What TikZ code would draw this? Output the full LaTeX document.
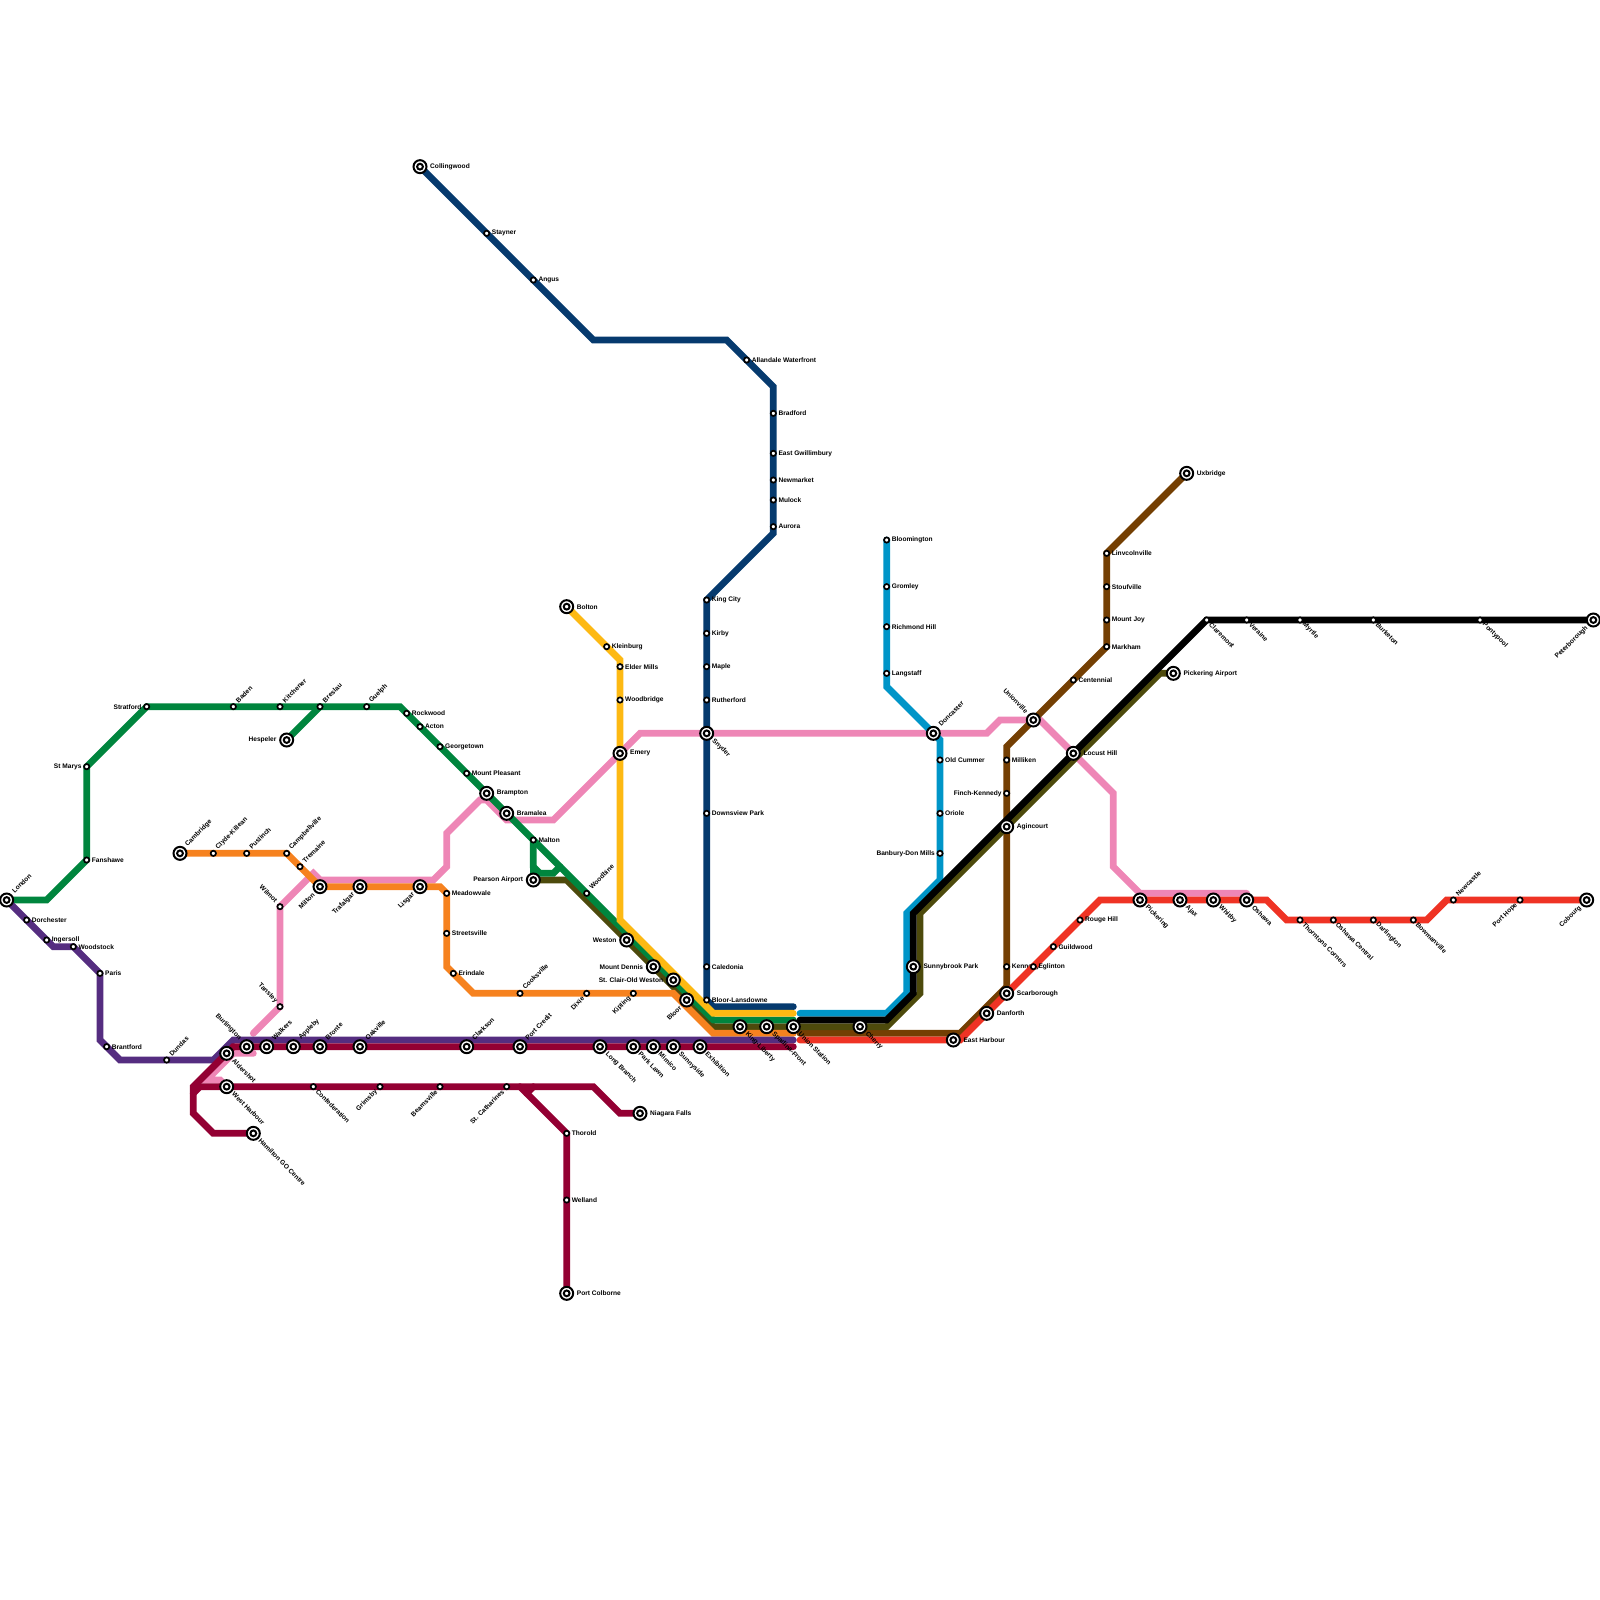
\documentclass[tikz,border=0pt]{standalone}
\usepackage{fontspec}
\setmainfont{Liberation Sans}
\definecolor{cnavy}{HTML}{063A6E}
\definecolor{cyellow}{HTML}{FDB913}
\definecolor{cgreen}{HTML}{00853E}
\definecolor{colive}{HTML}{4D4A0C}
\definecolor{corange}{HTML}{F6821F}
\definecolor{cpurple}{HTML}{552D80}
\definecolor{ccrimson}{HTML}{930033}
\definecolor{cteal}{HTML}{0095C8}
\definecolor{cbrown}{HTML}{743F03}
\definecolor{cred}{HTML}{EF3324}
\definecolor{cpink}{HTML}{EE86B6}
\pgfdeclarelayer{lines}
\pgfsetlayers{lines,main}
\tikzset{
  rail/.style={draw=#1,line width=6.8pt,line cap=round,line join=miter,miter limit=10},
  stn/.style={circle,draw=black,fill=white,line width=1.7pt,inner sep=0pt,minimum size=5.3pt},
  hub/.style={circle,draw=black,fill=white,line width=2pt,inner sep=0pt,minimum size=13pt,
    path picture={\draw[black,line width=2pt] (path picture bounding box.center) circle (2.9pt);}},
  lab/.style={font=\fontsize{6.6}{7}\selectfont\bfseries,inner sep=0pt,text=black},
  tr/.style={lab,anchor=west,xshift=#1},tr/.default=5pt,
  tl/.style={lab,anchor=east,xshift=-#1},tl/.default=5pt,
  ne/.style={lab,xshift=0.707*#1,yshift=0.707*#1+1.5pt,rotate=45,anchor=west},ne/.default=5pt,
  se/.style={lab,xshift=0.707*#1,yshift=-0.707*#1,rotate=-45,anchor=west},se/.default=5pt,
  nw/.style={lab,xshift=-0.707*#1,yshift=0.707*#1+1.5pt,rotate=-45,anchor=east},nw/.default=5pt,
  sw/.style={lab,xshift=-0.707*#1,yshift=-0.707*#1-0.6pt,rotate=45,anchor=east},sw/.default=5pt,
}
\newcommand{\st}[5]{\node[#1] (#2) at (#3) {}; \node[#4] (#2t) at (#2.center) {#5};}
\begin{document}
\begin{tikzpicture}[x=6.6667pt,y=-6.6667pt]
\useasboundingbox (0,0) rectangle (240,240);
% ---- Barrie
\st{hub}{collingwood}{63,25}{tr=10pt}{Collingwood}
\st{stn}{stayner}{73,35}{tr}{Stayner}
\st{stn}{angus}{80,42}{tr}{Angus}
\st{stn}{allandale}{112,54}{tr}{Allandale Waterfront}
\st{stn}{bradford}{116,62}{tr}{Bradford}
\st{stn}{eastg}{116,68}{tr}{East Gwillimbury}
\st{stn}{newmarket}{116,72}{tr}{Newmarket}
\st{stn}{mulock}{116,75}{tr}{Mulock}
\st{stn}{aurora}{116,79}{tr}{Aurora}
\st{stn}{kingcity}{106,90}{tr}{King City}
\st{stn}{kirby}{106,95}{tr}{Kirby}
\st{stn}{maple}{106,100}{tr}{Maple}
\st{stn}{rutherford}{106,105}{tr}{Rutherford}
\st{hub}{snyder}{106,110}{se=9pt}{Snyder}
\st{stn}{downsview}{106,122}{tr}{Downsview Park}
\st{stn}{caledonia}{106,145}{tr}{Caledonia}
\st{stn}{bloorl}{106,150}{tr}{Bloor-Lansdowne}
% ---- Yellow
\st{hub}{bolton}{85,91}{tr=10pt}{Bolton}
\st{stn}{kleinburg}{91,97}{tr}{Kleinburg}
\st{stn}{eldermills}{93,100}{tr}{Elder Mills}
\st{stn}{woodbridge}{93,105}{tr}{Woodbridge}
\st{hub}{emery}{93,113}{tr=10pt}{Emery}
% ---- Green
\st{hub}{london}{1,135}{ne=9pt}{London}
\st{stn}{fanshawe}{13,129}{tr}{Fanshawe}
\st{stn}{stmarys}{13,115}{tl}{St Marys}
\st{stn}{stratford}{22,106}{tl}{Stratford}
\st{stn}{baden}{35,106}{ne}{Baden}
\st{stn}{kitchener}{42,106}{ne}{Kitchener}
\st{stn}{breslau}{48,106}{ne}{Breslau}
\st{hub}{hespeler}{43,111}{tl=10pt}{Hespeler}
\st{stn}{guelph}{55,106}{ne}{Guelph}
\st{stn}{rockwood}{61,107}{tr}{Rockwood}
\st{stn}{acton}{63,109}{tr}{Acton}
\st{stn}{georgetown}{66,112}{tr}{Georgetown}
\st{stn}{mountp}{70,116}{tr}{Mount Pleasant}
\st{hub}{brampton}{73,119}{tr=10pt}{Brampton}
\st{hub}{bramalea}{76,122}{tr=10pt}{Bramalea}
\st{stn}{malton}{80,126}{tr}{Malton}
\st{hub}{pearson}{80,132}{tl=10pt}{Pearson Airport}
\st{stn}{woodbine}{88,134}{ne}{Woodbine}
\st{hub}{weston}{94,141}{tl=10pt}{Weston}
\st{hub}{mountd}{98,145}{tl=10pt}{Mount Dennis}
\st{hub}{stclair}{101,147}{tl=10pt}{St. Clair-Old Weston}
% ---- Orange
\st{hub}{cambridge}{27,128}{ne=9pt}{Cambridge}
\st{stn}{clyde}{32,128}{ne}{Clyde-Killean}
\st{stn}{puslinch}{37,128}{ne}{Puslinch}
\st{stn}{campbell}{43,128}{ne}{Campbellville}
\st{stn}{tremaine}{45,130}{ne}{Tremaine}
\st{hub}{milton}{48,133}{sw=9pt}{Milton}
\st{hub}{trafalgar}{54,133}{sw=9pt}{Trafalgar}
\st{hub}{lisgar}{63,133}{sw=9pt}{Lisgar}
\st{stn}{meadowvale}{67,134}{tr}{Meadowvale}
\st{stn}{streetsville}{67,140}{tr}{Streetsville}
\st{stn}{erindale}{68,146}{tr}{Erindale}
\st{stn}{cooksville}{78,149}{ne}{Cooksville}
\st{stn}{dixie}{88,149}{sw}{Dixie}
\st{stn}{kipling}{95,149}{sw}{Kipling}
\st{hub}{bloor}{103,150}{sw=9pt}{Bloor}
% ---- Purple
\st{stn}{dorchester}{4,138}{tr}{Dorchester}
\st{stn}{ingersoll}{7,141}{tr}{Ingersoll}
\st{stn}{woodstock}{11,142}{tr}{Woodstock}
\st{stn}{paris}{15,146}{tr}{Paris}
\st{stn}{brantford}{16,157}{tr}{Brantford}
\st{stn}{dundas}{25,159}{ne}{Dundas}
% ---- Lakeshore West
\st{hub}{burlington}{37,157}{nw=9pt}{Burlington}
\st{hub}{aldershot}{34,158}{se=9pt}{Aldershot}
\st{hub}{walkers}{40,157}{ne=9pt}{Walkers}
\st{hub}{appleby}{44,157}{ne=9pt}{Appleby}
\st{hub}{bronte}{48,157}{ne=9pt}{Bronte}
\st{hub}{oakville}{54,157}{ne=9pt}{Oakville}
\st{hub}{clarkson}{70,157}{ne=9pt}{Clarkson}
\st{hub}{portcredit}{78,157}{ne=9pt}{Port Credit}
\st{hub}{longbranch}{90,157}{se=9pt}{Long Branch}
\st{hub}{parklawn}{95,157}{se=9pt}{Park Lawn}
\st{hub}{mimico}{98,157}{se=9pt}{Mimico}
\st{hub}{sunnyside}{101,157}{se=9pt}{Sunnyside}
\st{hub}{exhibition}{105,157}{se=9pt}{Exhibition}
\st{hub}{westharbour}{34,163}{se=9pt}{West Harbour}
\st{hub}{hamilton}{38,170}{se=9pt}{Hamilton GO Centre}
\st{stn}{confederation}{47,163}{se}{Confederation}
\st{stn}{grimsby}{57,163}{sw}{Grimsby}
\st{stn}{beamsville}{66,163}{sw}{Beamsville}
\st{stn}{stcath}{76,163}{sw}{St. Catharines}
\st{hub}{niagara}{96,167}{tr=10pt}{Niagara Falls}
\st{stn}{thorold}{85,170}{tr}{Thorold}
\st{stn}{welland}{85,180}{tr}{Welland}
\st{hub}{portcolborne}{85,194}{tr=10pt}{Port Colborne}
% ---- Central
\st{hub}{king}{111,154}{se=9pt}{King-Liberty}
\st{hub}{spadina}{115,154}{se=9pt}{Spadina-Front}
\st{hub}{union}{119,154}{se=9pt}{Union Station}
\st{hub}{cherry}{129,154}{se=9pt}{Cherry}
% ---- Pink
\st{stn}{wilmot}{42,136}{nw}{Wilmot}
\st{stn}{tansley}{42,151}{nw}{Tansley}
\st{hub}{doncaster}{140,110}{ne=9pt}{Doncaster}
\st{hub}{unionville}{155,108}{nw=9pt}{Unionville}
% ---- Teal
\st{stn}{bloomington}{133,81}{tr}{Bloomington}
\st{stn}{gromley}{133,88}{tr}{Gromley}
\st{stn}{richmond}{133,94}{tr}{Richmond Hill}
\st{stn}{langstaff}{133,101}{tr}{Langstaff}
\st{stn}{oldcummer}{141,114}{tr}{Old Cummer}
\st{stn}{oriole}{141,122}{tr}{Oriole}
\st{stn}{banbury}{141,128}{tl}{Banbury-Don Mills}
% ---- Black / olive
\st{hub}{sunnybrook}{137,145}{tr=10pt}{Sunnybrook Park}
\st{hub}{agincourt}{151,124}{tr=10pt}{Agincourt}
\st{hub}{locust}{161,113}{tr=10pt}{Locust Hill}
\st{stn}{claremont}{181,93}{se}{Claremont}
\st{stn}{veraine}{187,93}{se}{Veraine}
\st{stn}{myrtle}{195,93}{se}{Myrtle}
\st{stn}{burketon}{206,93}{se}{Burketon}
\st{stn}{pontypool}{222,93}{se}{Pontypool}
\st{hub}{peterborough}{239,93}{sw=9pt}{Peterborough}
\st{hub}{pickairport}{176,101}{tr=10pt}{Pickering Airport}
% ---- Brown
\st{hub}{uxbridge}{178,71}{tr=10pt}{Uxbridge}
\st{stn}{lincoln}{166,83}{tr}{Linvcolnville}
\st{stn}{stouffville}{166,88}{tr}{Stoufville}
\st{stn}{mountjoy}{166,93}{tr}{Mount Joy}
\st{stn}{markham}{166,97}{tr}{Markham}
\st{stn}{centennial}{161,102}{tr}{Centennial}
\st{stn}{milliken}{151,114}{tr}{Milliken}
\st{stn}{finch}{151,119}{tl}{Finch-Kennedy}
\node[stn] (kennedy) at (151,145) {};
% ---- Red
\st{hub}{scarborough}{151,149}{tr=10pt}{Scarborough}
\st{hub}{danforth}{148,152}{tr=10pt}{Danforth}
\st{hub}{eastharbour}{143,156}{tr=10pt}{East Harbour}
\st{stn}{eglinton}{155,145}{tr}{Eglinton}
\st{stn}{guildwood}{158,142}{tr}{Guildwood}
\st{stn}{rougehill}{162,138}{tr}{Rouge Hill}
\st{hub}{pickering}{171,135}{se=9pt}{Pickering}
\st{hub}{ajax}{177,135}{se=9pt}{Ajax}
\st{hub}{whitby}{182,135}{se=9pt}{Whitby}
\st{hub}{oshawa}{187,135}{se=9pt}{Oshawa}
\st{stn}{thornton}{195,138}{se}{Thorntons Corners}
\st{stn}{oshawac}{200,138}{se}{Oshawa Central}
\st{stn}{darlington}{206,138}{se}{Darlington}
\st{stn}{bowmanville}{212,138}{se}{Bowmanville}
\st{stn}{newcastle}{218,135}{ne}{Newcastle}
\st{stn}{porthope}{228,135}{sw}{Port Hope}
\st{hub}{cobourg}{238,135}{sw=9pt}{Cobourg}
% ---- bends
\coordinate (n1) at (89,51); \coordinate (n2) at (109,51); \coordinate (n3) at (116,58);
\coordinate (n4) at (116,80); \coordinate (n5) at (107,151); \coordinate (n6) at (119,151);
\coordinate (y1) at (93,99); \coordinate (y2) at (93,138); \coordinate (y3) at (107,152); \coordinate (y4) at (119,152);
\coordinate (g1) at (7,135); \coordinate (g2) at (60,106); \coordinate (g3) at (107,153); \coordinate (g4) at (119,153);
\coordinate (g5) at (80,130); \coordinate (g6) at (81,131); \coordinate (g7) at (83,131); \coordinate (g8) at (84,130);
\coordinate (ol1) at (85,132); \coordinate (ol2) at (107,154); \coordinate (ol3) at (119,154);
\coordinate (o1) at (66,133); \coordinate (o2) at (67,145); \coordinate (o3) at (71,149); \coordinate (o4) at (101,149); \coordinate (o5) at (107,155); \coordinate (o6) at (119,155); \coordinate (o7) at (67,134);
\coordinate (p1) at (8,142); \coordinate (p2) at (15,156); \coordinate (p3) at (18,159); \coordinate (p4) at (32,159); \coordinate (p5) at (35,156); \coordinate (p6) at (119,156);
\coordinate (c1) at (119,157); \coordinate (c2) at (35,157); \coordinate (c3) at (29,163); \coordinate (c4) at (29,167); \coordinate (c5) at (32,170);
\coordinate (c6) at (30,163); \coordinate (c7) at (89,163); \coordinate (c8) at (93,167); \coordinate (c9) at (78,163); \coordinate (c10) at (29,164); \coordinate (c11) at (79,164); \coordinate (c12) at (80,163);
\coordinate (k1) at (38,155); \coordinate (k2) at (47,131); \coordinate (k3) at (48,132); \coordinate (k4) at (65,132); \coordinate (k5) at (67,130); \coordinate (k6) at (67,125); \coordinate (k7) at (72,120); \coordinate (k8) at (73,120); \coordinate (k9) at (76,123); \coordinate (k10) at (83,123); \coordinate (k11) at (96,110); \coordinate (k12) at (148,110); \coordinate (k13) at (150,108); \coordinate (k13b) at (156,108); \coordinate (k14) at (167,119); \coordinate (k15) at (167,130); \coordinate (k16) at (171,134); \coordinate (k17) at (187,134);
\coordinate (w1) at (38,158); \coordinate (w2) at (35,158); \coordinate (w3) at (31,162); \coordinate (w4) at (33,162); \coordinate (w5) at (34,163);
\coordinate (t1) at (133,103); \coordinate (t2) at (141,111); \coordinate (t3) at (141,132); \coordinate (t4) at (136,137); \coordinate (t5) at (136,149); \coordinate (t6) at (133,152); \coordinate (t7) at (120,152);
\coordinate (b1) at (137,137); \coordinate (b2) at (137,149); \coordinate (b3) at (133,153); \coordinate (b4) at (120,153);
\coordinate (v1) at (174,101); \coordinate (v2) at (138,137); \coordinate (v3) at (138,149); \coordinate (v4) at (133,154); \coordinate (v5) at (120,154);
\coordinate (r1) at (217,135); \coordinate (r2) at (214,138); \coordinate (r3) at (193,138); \coordinate (r4) at (190,135); \coordinate (r5) at (165,135); \coordinate (r6) at (144,156); \coordinate (r7) at (120,156);
\coordinate (h1) at (151,112); \coordinate (h2) at (151,148); \coordinate (h3) at (144,155); \coordinate (h4) at (120,155);
\begin{pgfonlayer}{lines}
\draw[rail=cpink] (k1)--(tansley.center)--(wilmot.center)--(k2)--(k3)--(k4)--(k5)--(k6)--(k7)--(k8)--(k9)--(k10)--(emery.center)--(k11)--(snyder.center)--(doncaster.center)--(k12)--(k13)--(k13b)--(k14)--(k15)--(k16)--(k17);
\draw[rail=cpink] (w1)--(w2)--(w3)--(w4)--(w5);
\draw[rail=cteal] (bloomington.center)--(t1)--(doncaster.center)--(t2)--(t3)--(t4)--(t5)--(t6)--(t7);
\draw[rail=cbrown] (uxbridge.center)--(lincoln.center)--(markham.center)--(h1)--(h2)--(h3)--(h4);
\node[tr] (kennedyt) at (kennedy.center) {Kennedy};
\draw[rail=colive] (pearson.center)--(ol1)--(ol2)--(ol3)--(cherry.center)--(v5)--(v4)--(v3)--(v2)--(v1)--(pickairport.center);
\draw[rail=black] (peterborough.center)--(claremont.center)--(b1)--(b2)--(b3)--(b4);
\draw[rail=cred] (cobourg.center)--(r1)--(r2)--(r3)--(r4)--(r5)--(r6)--(r7);
\draw[rail=cnavy] (collingwood.center)--(n1)--(n2)--(n3)--(n4)--(kingcity.center)--(bloorl.center)--(n5)--(n6);
\draw[rail=cgreen] (london.center)--(g1)--(fanshawe.center)--(stmarys.center)--(stratford.center)--(g2)--(malton.center)--(g3)--(g4);
\draw[rail=cgreen] (hespeler.center)--(breslau.center);
\draw[rail=cgreen] (malton.center)--(g5)--(g6)--(g7)--(g8);
\draw[rail=cgreen] (g5)--(pearson.center);
\draw[rail=cyellow] (bolton.center)--(y1)--(y2)--(y3)--(y4);
\draw[rail=corange] (cambridge.center)--(campbell.center)--(milton.center)--(o1)--(o7)--(o2)--(o3)--(o4)--(o5)--(o6);
\draw[rail=cpurple] (london.center)--(p1)--(woodstock.center)--(paris.center)--(p2)--(p3)--(p4)--(p5)--(p6);
\draw[rail=ccrimson] (c1)--(c2)--(c3)--(c4)--(c5)--(hamilton.center);
\draw[rail=ccrimson] (c10)--(c6)--(c7)--(c8)--(niagara.center);
\draw[rail=ccrimson] (c9)--(thorold.center)--(portcolborne.center);
\draw[rail=ccrimson] (c11)--(c12);
\end{pgfonlayer}
\end{tikzpicture}
\end{document}
